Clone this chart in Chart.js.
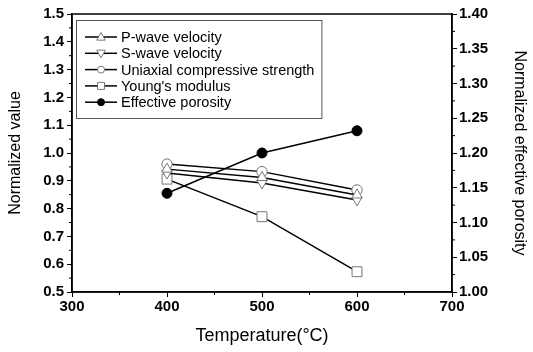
<!DOCTYPE html>
<html>
<head>
<meta charset="utf-8">
<style>
  html, body { margin: 0; padding: 0; background: #fff; }
  #wrap { width: 533px; height: 352px; }
</style>
<script src="https://cdn.jsdelivr.net/npm/chart.js@4/dist/chart.umd.min.js"></script>
</head>
<body>
<div id="wrap"><canvas id="chart" width="533" height="352"></canvas></div>
<script>
// temperatures (degC)
const temps = [400, 500, 600];

// normalized values, left axis
const pWave = [0.942, 0.912, 0.849];
const sWave = [0.928, 0.892, 0.831];
const ucs = [0.960, 0.933, 0.867];
const youngs = [0.906, 0.771, 0.573];

// normalized effective porosity, right axis
const porosity = [1.142, 1.200, 1.232];

const seriesNames = ['P-wave velocity', 'S-wave velocity', 'Uniaxial compressive strength', "Young's modulus", 'Effective porosity'];

const FONT = "'Liberation Sans', Arial, sans-serif";
const MARKER_GREY = '#777';

function toPoints(vals) {
  return vals.map((v, i) => ({ x: temps[i], y: v }));
}

function makeSet(label, vals, style, radius, axis, fill, stroke, rotation) {
  return {
    label: label,
    data: toPoints(vals),
    yAxisID: axis,
    borderColor: '#000',
    borderWidth: 1.5,
    pointStyle: style,
    pointRadius: radius,
    pointRotation: rotation || 0,
    pointBackgroundColor: fill,
    pointBorderColor: stroke,
    pointBorderWidth: 1,
    tension: 0
  };
}

// simple marker drawer, used for the legend
function drawMarker(ctx, style, x, y, r, rotation, fill, stroke) {
  ctx.save();
  ctx.beginPath();
  ctx.fillStyle = fill;
  ctx.strokeStyle = stroke;
  ctx.lineWidth = 1;
  if (style === 'circle') {
    ctx.arc(x, y, r, 0, Math.PI * 2);
  } else if (style === 'rect') {
    ctx.rect(x - r, y - r, 2 * r, 2 * r);
  } else if (style === 'triangle') {
    const s = rotation ? -1 : 1;
    ctx.moveTo(x, y - s * r);
    ctx.lineTo(x + r * 0.95, y + s * r * 0.7);
    ctx.lineTo(x - r * 0.95, y + s * r * 0.7);
    ctx.closePath();
  }
  ctx.fill();
  ctx.stroke();
  ctx.restore();
}

// frame, minor ticks and the boxed legend inside the plot
const extrasPlugin = {
  id: 'extras',
  afterDraw(chart) {
    const ctx = chart.ctx;
    const a = chart.chartArea;
    ctx.save();
    ctx.strokeStyle = '#000';
    ctx.lineWidth = 1.5;
    ctx.strokeRect(a.left, a.top, a.right - a.left, a.bottom - a.top);

    // minor ticks
    ctx.lineWidth = 1;
    const xs = chart.scales.x, yl = chart.scales.y, yr = chart.scales.y2;
    ctx.beginPath();
    for (let v = 350; v < 700; v += 100) {
      const px = xs.getPixelForValue(v);
      ctx.moveTo(px, a.bottom); ctx.lineTo(px, a.bottom + 3);
    }
    for (let v = 0.55; v < 1.5; v += 0.1) {
      const py = yl.getPixelForValue(v);
      ctx.moveTo(a.left, py); ctx.lineTo(a.left - 3, py);
    }
    for (let v = 1.025; v < 1.4; v += 0.05) {
      const py = yr.getPixelForValue(v);
      ctx.moveTo(a.right, py); ctx.lineTo(a.right + 3, py);
    }
    ctx.stroke();

    // legend
    const lx = 76, ly = 20, rowH = 16.3;
    ctx.font = '14.5px ' + FONT;
    let maxW = 0;
    chart.data.datasets.forEach(d => { maxW = Math.max(maxW, ctx.measureText(d.label).width); });
    const boxW = 121 - lx + maxW + 7;
    ctx.strokeStyle = '#555';
    ctx.lineWidth = 1;
    ctx.strokeRect(lx + 0.5, ly + 0.5, boxW, 98);

    chart.data.datasets.forEach((d, i) => {
      const y = ly + 17 + i * rowH;
      ctx.strokeStyle = '#000';
      ctx.lineWidth = 1.5;
      ctx.beginPath();
      ctx.moveTo(85, y); ctx.lineTo(117, y);
      ctx.stroke();
      const r = d.pointStyle === 'circle' ? 3.5 : (d.pointStyle === 'rect' ? 3.5 : 4.5);
      drawMarker(ctx, d.pointStyle, 101, y, r, d.pointRotation, d.pointBackgroundColor, d.pointBorderColor);
      ctx.fillStyle = '#000';
      ctx.textBaseline = 'middle';
      ctx.textAlign = 'left';
      ctx.fillText(d.label, 121, y + 1);
    });
    ctx.restore();
  }
};

const chartData = {
  datasets: [
    makeSet(seriesNames[0], pWave, 'triangle', 6, 'y', '#fff', MARKER_GREY, 0),
    makeSet(seriesNames[1], sWave, 'triangle', 6, 'y', '#fff', MARKER_GREY, 180),
    makeSet(seriesNames[2], ucs, 'circle', 5.2, 'y', '#fff', MARKER_GREY, 0),
    makeSet(seriesNames[3], youngs, 'rect', 7, 'y', '#fff', MARKER_GREY, 0),
    makeSet(seriesNames[4], porosity, 'circle', 5, 'y2', '#000', '#000', 0)
  ]
};

const tickFont = { family: FONT, size: 15, weight: 'bold' };

new Chart(document.getElementById('chart').getContext('2d'), {
  type: 'line',
  data: chartData,
  plugins: [extrasPlugin],
  options: {
    responsive: false,
    animation: false,
    layout: { padding: { top: 14, left: 0, right: 0, bottom: 0 } },
    plugins: {
      legend: { display: false },
      tooltip: { enabled: false }
    },
    scales: {
      x: {
        type: 'linear',
        min: 300, max: 700,
        ticks: { stepSize: 100, color: '#000', font: tickFont, padding: 1, maxRotation: 0 },
        grid: { drawOnChartArea: false, drawTicks: true, tickLength: 5, color: '#000' },
        border: { display: true, color: '#000', width: 1.5 },
        title: {
          display: true, text: 'Temperature(\u00B0C)', color: '#000',
          font: { family: FONT, size: 18 }, padding: { top: 5, bottom: 5 }
        },
        afterFit(s) { s.height = 60; }
      },
      y: {
        position: 'left',
        min: 0.5, max: 1.5,
        ticks: { stepSize: 0.1, color: '#000', font: tickFont, padding: 3,
          callback: v => Number(v).toFixed(1) },
        grid: { drawOnChartArea: false, drawTicks: true, tickLength: 5, color: '#000' },
        border: { display: true, color: '#000', width: 1.5 },
        title: {
          display: true, text: 'Normalized value', color: '#000',
          font: { family: FONT, size: 16 }, padding: { top: 6, bottom: 6 }
        },
        afterFit(s) { s.width = 72; }
      },
      y2: {
        position: 'right',
        min: 1.0, max: 1.4,
        ticks: { stepSize: 0.05, color: '#000', font: tickFont, padding: 2,
          callback: v => Number(v).toFixed(2) },
        grid: { drawOnChartArea: false, drawTicks: true, tickLength: 5, color: '#000' },
        border: { display: true, color: '#000', width: 1.5 },
        title: {
          display: true, text: 'Normalized effective porosity', color: '#000',
          font: { family: FONT, size: 16 }, padding: { top: 3.5, bottom: 6 }
        },
        afterFit(s) { s.width = 81; }
      }
    }
  }
});
</script>
</body>
</html>
